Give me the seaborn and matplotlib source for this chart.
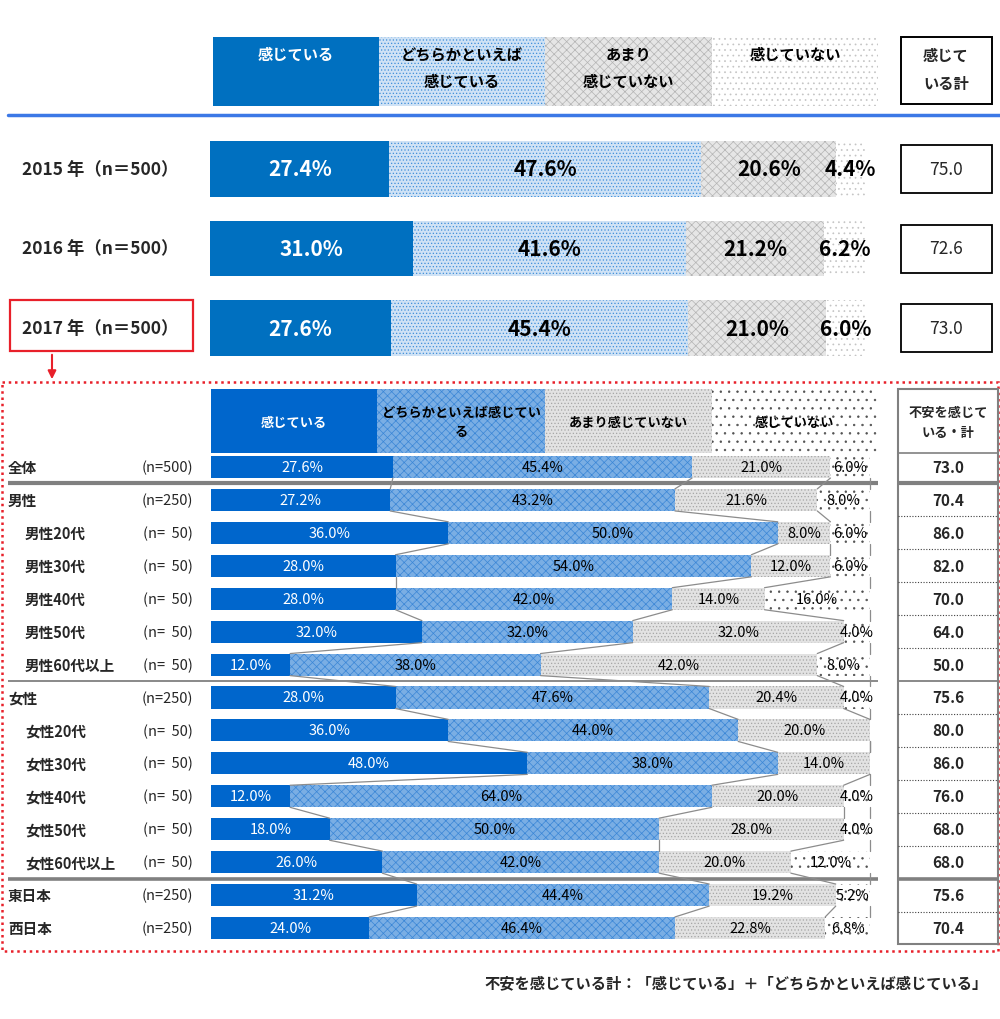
import matplotlib
matplotlib.use("Agg")
import numpy as np
import pandas as pd
import matplotlib.pyplot as plt
from matplotlib.patches import Rectangle
import seaborn as sns

# ---- data: yearly comparison ----
years = ["2015 年（n＝500）", "2016 年（n＝500）", "2017 年（n＝500）"]
year_feel = [27.4, 31.0, 27.6]
year_rather = [47.6, 41.6, 45.4]
year_notmuch = [20.6, 21.2, 21.0]
year_notatall = [4.4, 6.2, 6.0]
year_total = ["75.0", "72.6", "73.0"]

# ---- data: 2017 breakdown ----
groups = ["全体", "男性", "男性20代", "男性30代", "男性40代", "男性50代", "男性60代以上",
          "女性", "女性20代", "女性30代", "女性40代", "女性50代", "女性60代以上",
          "東日本", "西日本"]
group_n = ["(n=500)", "(n=250)", "(n=  50)", "(n=  50)", "(n=  50)", "(n=  50)", "(n=  50)",
           "(n=250)", "(n=  50)", "(n=  50)", "(n=  50)", "(n=  50)", "(n=  50)",
           "(n=250)", "(n=250)"]
grp_feel = [27.6, 27.2, 36.0, 28.0, 28.0, 32.0, 12.0, 28.0, 36.0, 48.0, 12.0, 18.0, 26.0, 31.2, 24.0]
grp_rather = [45.4, 43.2, 50.0, 54.0, 42.0, 32.0, 38.0, 47.6, 44.0, 38.0, 64.0, 50.0, 42.0, 44.4, 46.4]
grp_notmuch = [21.0, 21.6, 8.0, 12.0, 14.0, 32.0, 42.0, 20.4, 20.0, 14.0, 20.0, 28.0, 20.0, 19.2, 22.8]
grp_notatall = [6.0, 8.0, 6.0, 6.0, 16.0, 4.0, 8.0, 4.0, 0.0, 0.0, 4.0, 4.0, 12.0, 5.2, 6.8]
grp_total = ["73.0", "70.4", "86.0", "82.0", "70.0", "64.0", "50.0", "75.6",
             "80.0", "86.0", "76.0", "68.0", "68.0", "75.6", "70.4"]

top_headers = ["感じている", "どちらかといえば\n感じている", "あまり\n感じていない", "感じていない"]
low_headers = ["感じている", "どちらかといえば感じてい\nる", "あまり感じていない", "感じていない"]
top_total_header = "感じて\nいる計"
low_total_header = "不安を感じて\nいる・計"
footnote = "不安を感じている計：「感じている」＋「どちらかといえば感じている」"

# ---- styles ----
TOP_STYLES = [
    dict(fc="#0070C0", ec="#0070C0", hatch=None),
    dict(fc="#CFE2F5", ec="#3F8FDA", hatch="....."),
    dict(fc="#E6E6E6", ec="#B4B4B4", hatch="xxxx"),
    dict(fc="white", ec="#C4C4C4", hatch="..."),
]
LOW_STYLES = [
    dict(fc="#0066CC", ec="#0066CC", hatch=None),
    dict(fc="#7AAEE4", ec="#3A86D6", hatch="xxxx"),
    dict(fc="#E2E2E2", ec="#A6A6A6", hatch="....."),
    dict(fc="white", ec="#505050", hatch=".."),
]

sns.set_style("white")
plt.rcParams["font.family"] = ["Noto Sans CJK JP", "DejaVu Sans"]
plt.rcParams["hatch.linewidth"] = 0.5

W, H = 1000, 1020
fig = plt.figure(figsize=(10, 10.2), dpi=100)
bg = fig.add_axes([0, 0, 1, 1])
bg.set_xlim(0, W)
bg.set_ylim(H, 0)
bg.set_axis_off()


def px_axes(x0, y0, x1, y1):
    ax = fig.add_axes([x0 / W, 1 - y1 / H, (x1 - x0) / W, (y1 - y0) / H])
    ax.set_facecolor("none")
    return ax


def styled_rect(x0, y0, x1, y1, st):
    bg.add_patch(Rectangle((x0, y0), x1 - x0, y1 - y0, facecolor=st["fc"],
                           edgecolor=st["ec"], hatch=st["hatch"], linewidth=0))


def stacked(ax, labels, segs, styles, height):
    df = pd.DataFrame({"label": labels})
    cums = np.cumsum(np.array(segs), axis=0)
    # overlay cumulative bars, longest first
    for k in range(3, -1, -1):
        df["v"] = cums[k]
        sns.barplot(data=df, x="v", y="label", orient="h", ax=ax, width=height,
                    errorbar=None, saturation=1, color=styles[k]["fc"])
        for p in ax.containers[-1]:
            p.set_facecolor(styles[k]["fc"])
            p.set_edgecolor(styles[k]["ec"])
            p.set_linewidth(0)
            p.set_hatch(styles[k]["hatch"])
    return cums


def seg_labels(ax, segs, size, weight):
    segs = np.array(segs)
    for i in range(segs.shape[1]):
        left = 0
        for k in range(4):
            v = segs[k, i]
            if v > 0:
                ax.text(left + v / 2, i, f"{v:.1f}%", ha="center", va="center",
                        color="white" if k == 0 else "black", fontsize=size,
                        fontweight=weight, clip_on=False)
            left += v


# ================= top section =================
hx = [213, 379, 545, 712, 878]
for k, txt in enumerate(top_headers):
    styled_rect(hx[k], 38, hx[k + 1], 107, TOP_STYLES[k])
    for j, line in enumerate(txt.split("\n")):
        bg.text((hx[k] + hx[k + 1]) / 2, 55 + 27 * j, line, ha="center", va="center",
                fontsize=11, fontweight="bold", color="white" if k == 0 else "black")
bg.add_patch(Rectangle((901, 38), 91, 67, fill=False, edgecolor="black", linewidth=1.4))
for j, line in enumerate(top_total_header.split("\n")):
    bg.text(946, 56 + 28 * j, line, ha="center", va="center", fontsize=11, fontweight="bold")

bg.plot([8, 1000], [116, 116], color="#3C78E6", lw=2.5)

t_y0, t_pitch = 170, 79.5
ax_top = px_axes(210, t_y0 - t_pitch / 2, 865, t_y0 + 2 * t_pitch + t_pitch / 2)
top_segs = [year_feel, year_rather, year_notmuch, year_notatall]
stacked(ax_top, years, top_segs, TOP_STYLES, 0.70)
seg_labels(ax_top, top_segs, 15, "bold")
ax_top.set_xlim(0, 100)
ax_top.set_ylim(2.5, -0.5)
ax_top.set_axis_off()

for i, (lab, tot) in enumerate(zip(years, year_total)):
    yc = t_y0 + i * t_pitch
    bg.text(22, yc, lab, ha="left", va="center", fontsize=12.5, fontweight="bold")
    bg.add_patch(Rectangle((901, yc - 24), 91, 48, fill=False, edgecolor="black", linewidth=1.3))
    bg.text(946, yc, tot, ha="center", va="center", fontsize=12.5)

# highlight 2017 and arrow into detail box
bg.add_patch(Rectangle((10, 301), 183, 51, fill=False, edgecolor="#E8202A", linewidth=1.6))
bg.annotate("", xy=(52, 383), xytext=(52, 353),
            arrowprops=dict(arrowstyle="-|>", color="#E8202A", lw=1.5, mutation_scale=12))
bg.add_patch(Rectangle((2, 383), 996, 569, fill=False, edgecolor="#E8202A",
                       linewidth=1.8, linestyle=(0, (1, 1.5))))

# ================= detail section =================
lx = [211, 377, 545, 712, 878]
for k, txt in enumerate(low_headers):
    styled_rect(lx[k], 390, lx[k + 1], 454, LOW_STYLES[k])
    lines = txt.split("\n")
    for j, line in enumerate(lines):
        yy = 423 if len(lines) == 1 else 413 + 19 * j
        bg.text((lx[k] + lx[k + 1]) / 2, yy, line, ha="center", va="center",
                fontsize=9.5, fontweight="bold", color="white" if k == 0 else "black")

r_y0 = 468
r_pitch = (929 - 468) / 14
n_rows = len(groups)
ax_low = px_axes(211, r_y0 - r_pitch / 2, 870, r_y0 + (n_rows - 1) * r_pitch + r_pitch / 2)
low_segs = [grp_feel, grp_rather, grp_notmuch, grp_notatall]
bar_h = 0.67
cums = stacked(ax_low, groups, low_segs, LOW_STYLES, bar_h)

# connector lines between neighbouring bars
for i in range(n_rows - 1):
    for k in range(4):
        ax_low.plot([cums[k][i], cums[k][i + 1]], [i + bar_h / 2, i + 1 - bar_h / 2],
                    color="#8C8C8C", lw=0.9, clip_on=False)
seg_labels(ax_low, low_segs, 10.5, "normal")
ax_low.set_xlim(0, 100)
ax_low.set_ylim(n_rows - 0.5, -0.5)
ax_low.set_axis_off()

# right-hand total table
tb_x0, tb_x1 = 898, 998
bg.add_patch(Rectangle((tb_x0, 390), tb_x1 - tb_x0, 555, fill=False, edgecolor="#808080", linewidth=1.5))
bg.plot([tb_x0, tb_x1], [454, 454], color="#808080", lw=1.2)
for j, line in enumerate(low_total_header.split("\n")):
    bg.text(948, 413 + 20 * j, line, ha="center", va="center", fontsize=9.5, fontweight="bold")

thick_after = {0: 3.0, 12: 2.6}
thin_after = {6: 1.3}
for i in range(n_rows):
    yc = r_y0 + i * r_pitch
    indent = 25 if "代" in groups[i] else 8
    bg.text(indent, yc, groups[i], ha="left", va="center", fontsize=10.5, fontweight="bold")
    bg.text(193, yc, group_n[i], ha="right", va="center", fontsize=10.5)
    bg.text(948, yc, grp_total[i], ha="center", va="center", fontsize=11, fontweight="bold")
    if i < n_rows - 1:
        yb = yc + r_pitch / 2
        if i in thick_after or i in thin_after:
            lw = thick_after.get(i, thin_after.get(i))
            bg.plot([8, 878], [yb, yb], color="#808080", lw=lw, solid_capstyle="butt")
            bg.plot([tb_x0, tb_x1], [yb, yb], color="#808080", lw=lw, solid_capstyle="butt")
        else:
            bg.plot([tb_x0, tb_x1], [yb, yb], color="#404040", lw=0.8, linestyle=(0, (1, 1.5)))

bg.text(988, 983, footnote, ha="right", va="center", fontsize=11, fontweight="bold")

fig.savefig("out.png", dpi=100)
